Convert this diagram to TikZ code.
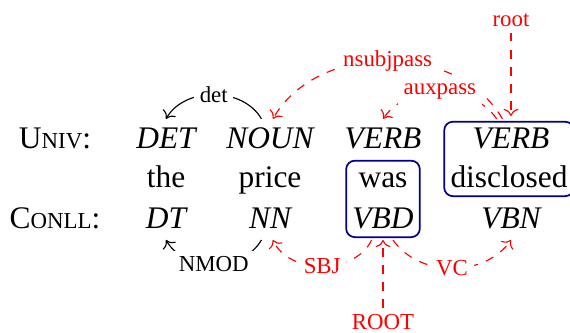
\documentclass[tikz,border=0pt]{standalone}
\usepackage{fontspec}
\setmainfont{Liberation Serif}
\usetikzlibrary{positioning, fit, arrows.meta}
\definecolor{boxBlue}{RGB}{0, 0, 140}

% small caps by hand, the serif has none
\newcommand{\fakesc}[2]{#1{\fontsize{8}{9}\selectfont #2}}

\begin{document}
\begin{tikzpicture}[x=0.35pt, y=0.35pt,
    font=\fontsize{11}{13}\selectfont,
    word/.style={anchor=base, inner sep=2pt, text height=8pt, text depth=2pt},
    tag/.style={word, font=\fontsize{11}{13}\selectfont\itshape},
    lbl/.style={font=\fontsize{8}{9}\selectfont, fill=white, inner sep=2pt},
    udlbl/.style={lbl, text=red},
    dep/.style={->},
    udep/.style={->, red, dashed},
    hilite/.style={draw=boxBlue, semithick, rounded corners=3pt,
                   inner xsep=0pt, inner ysep=-1pt},
  ]
  \useasboundingbox (0,0) rectangle (570,332);

  % row heads
  \node[word] (UNIV)  at (55,184) {\fakesc{U}{NIV}:};
  \node[word] (CONLL) at (55,104) {\fakesc{C}{ONLL}:};

  % universal tags
  \node[tag] (DET)   at (166,184) {DET};
  \node[tag] (NOUN)  at (270,184) {NOUN};
  \node[tag] (VERBa) at (383,184) {VERB};
  \node[tag] (VERBb) at (511,184) {VERB};

  % the sentence
  \node[word] (the)   at (166,145) {the};
  \node[word] (price) at (270,145) {price};
  \node[word] (was)   at (383,145) {was};
  \node[word] (disc)  at (509,145) {disclosed};

  % conll tags
  \node[tag] (DT)  at (166,104) {DT};
  \node[tag] (NN)  at (270,104) {NN};
  \node[tag] (VBD) at (383,104) {VBD};
  \node[tag] (VBN) at (511,104) {VBN};

  % heads
  \node[hilite, fit=(was)(VBD)] (wasbox) {};
  \node[hilite, fit=(VERBb)(disc)] (discbox) {};

  % conll arcs
  \draw[dep] ([xshift=-3pt]NOUN.north) to[out=120, in=60]
    node[lbl] {det} (DET.north);
  \draw[dep] ([xshift=-3pt]NN.south) to[out=-120, in=-60]
    node[lbl] {NMOD} (DT.south);
  \draw[udep] ([xshift=-4pt]VBD.south) to[out=-115, in=-65]
    node[udlbl] {SBJ} ([xshift=1pt]NN.south);
  \draw[udep] ([xshift=3.5pt]VBD.south) to[out=-55, in=-125]
    node[udlbl] {VC} (VBN.south);
  \node[udlbl] (ROOTlbl) at (383,10) {ROOT};
  \draw[udep] (ROOTlbl) -- (VBD.south);

  % universal arcs
  \draw[udep] ([xshift=-3pt]VERBb.north) to[out=120, in=60]
    node[udlbl] {nsubjpass} ([xshift=1pt]NOUN.north);
  \draw[udep] ([xshift=-5pt]VERBb.north) to[out=125, in=55]
    node[udlbl] {auxpass} (VERBa.north);
  \node[udlbl] (rootlbl) at (511,312) {root};
  \draw[udep] (rootlbl) -- ([yshift=1pt]VERBb.north);
\end{tikzpicture}
\end{document}
